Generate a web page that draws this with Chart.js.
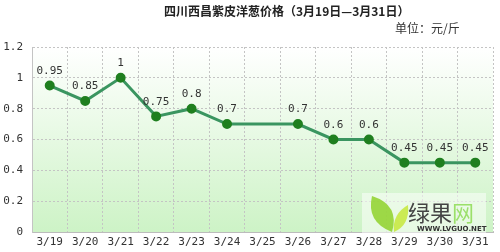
<!DOCTYPE html>
<html>
<head>
<meta charset="utf-8">
<script src="https://cdn.jsdelivr.net/npm/chart.js@4"></script>
<style>
  html, body { margin: 0; padding: 0; background: #fff; }
  #wrap { position: relative; width: 500px; height: 252px; }
  #title { position: absolute; left: 164px; top: 3px; font: bold 12px/16px "Noto Sans CJK SC", sans-serif; color: #222; white-space: nowrap; }
  #unit { position: absolute; left: 395px; top: 20px; font: 12px/16px "Noto Sans CJK SC", sans-serif; color: #333; white-space: nowrap; }
</style>
</head>
<body>
<div id="wrap">
  <canvas id="c" width="500" height="252"></canvas>
  <div id="title">四川西昌紫皮洋葱价格（3月19日—3月31日）</div>
  <div id="unit">单位：元/斤</div>
</div>
<script>
/* ===== 四川西昌紫皮洋葱价格 ===== */

const dates  = ['3/19', '3/20', '3/21', '3/22', '3/23', '3/24', '3/25', '3/26', '3/27', '3/28', '3/29', '3/30', '3/31'];
const prices = [0.95, 0.85, 1, 0.75, 0.8, 0.7, null, 0.7, 0.6, 0.6, 0.45, 0.45, 0.45];
const yTicks = [0, 0.2, 0.4, 0.6, 0.8, 1, 1.2];

const monoFont = { family: '"DejaVu Sans Mono", monospace', size: 11 };

// green fade behind the plot
const bgPlugin = {
  id: 'bg',
  beforeDraw(chart) {
    const { ctx, chartArea: a } = chart;
    const g = ctx.createLinearGradient(0, a.top, 0, a.bottom);
    g.addColorStop(0, '#ffffff');
    g.addColorStop(1, '#cdf3c6');
    ctx.save();
    ctx.fillStyle = g;
    ctx.fillRect(a.left, a.top, a.right - a.left, a.bottom - a.top);
    ctx.restore();
  }
};

// value labels above points
const labelPlugin = {
  id: 'vals',
  afterDatasetsDraw(chart) {
    const { ctx } = chart;
    const meta = chart.getDatasetMeta(0);
    ctx.save();
    ctx.font = '11px "DejaVu Sans Mono", monospace';
    ctx.fillStyle = '#333';
    ctx.textAlign = 'center';
    ctx.textBaseline = 'bottom';
    meta.data.forEach((pt, i) => {
      if (prices[i] == null) return;
      ctx.fillText(String(prices[i]), pt.x, pt.y - 9);
    });
    ctx.restore();
  }
};

// site logo in the corner
const logoPlugin = {
  id: 'logo',
  afterDraw(chart) {
    const { ctx } = chart;
    ctx.save();
    ctx.globalAlpha = 0.85;
    ctx.fillStyle = 'rgba(255,255,255,0.6)';
    ctx.fillRect(362, 193, 124, 40);
    ctx.fillStyle = '#8fd12a';
    ctx.beginPath();
    ctx.moveTo(372, 196);
    ctx.quadraticCurveTo(400, 205, 392, 232);
    ctx.quadraticCurveTo(366, 222, 372, 196);
    ctx.fill();
    ctx.fillStyle = '#c6e83a';
    ctx.beginPath();
    ctx.moveTo(408, 205);
    ctx.quadraticCurveTo(410, 225, 394, 232);
    ctx.quadraticCurveTo(392, 214, 408, 205);
    ctx.fill();
    ctx.globalAlpha = 1;
    ctx.fillStyle = '#444';
    ctx.font = '22px "Noto Sans CJK SC", sans-serif';
    ctx.textBaseline = 'alphabetic';
    ctx.fillText('绿果', 408, 221);
    ctx.fillStyle = '#9be06a';
    ctx.fillText('网', 452, 221);
    ctx.fillStyle = '#333';
    ctx.font = 'bold 7px "DejaVu Sans", sans-serif';
    ctx.fillText('WWW.LVGUO.NET', 417, 231);
    ctx.restore();
  }
};

new Chart(document.getElementById('c'), {
  type: 'line',
  data: {
    labels: dates,
    datasets: [{
      data: prices,
      borderColor: '#3a9560',
      borderWidth: 3,
      pointBackgroundColor: '#1f7f1f',
      pointBorderColor: '#1f7f1f',
      pointRadius: 3.5,
      tension: 0,
      spanGaps: true
    }]
  },
  options: {
    responsive: false,
    animation: false,
    layout: { padding: { top: 47, right: 3, left: 0, bottom: 0 } },
    plugins: { legend: { display: false }, tooltip: { enabled: false } },
    scales: {
      x: {
        offset: true,
        grid: { offset: true, color: '#c4c4c4', drawTicks: false },
        border: { color: '#bcbcbc', dash: [2, 2] },
        ticks: { color: '#333', font: monoFont, padding: 4, maxRotation: 0, autoSkip: false },
        afterFit: s => { s.height = 20; }
      },
      y: {
        min: 0,
        max: 1.2,
        afterBuildTicks: s => { s.ticks = yTicks.map(v => ({ value: v })); },
        grid: { color: '#c4c4c4', drawTicks: false },
        border: { display: true, color: '#c4c4c4', dash: [2, 2] },
        ticks: { color: '#333', font: monoFont, padding: 9, callback: v => String(+v.toFixed(1)) },
        afterFit: s => { s.width = 32; }
      }
    }
  },
  plugins: [bgPlugin, labelPlugin, logoPlugin]
});
</script>
</body>
</html>
